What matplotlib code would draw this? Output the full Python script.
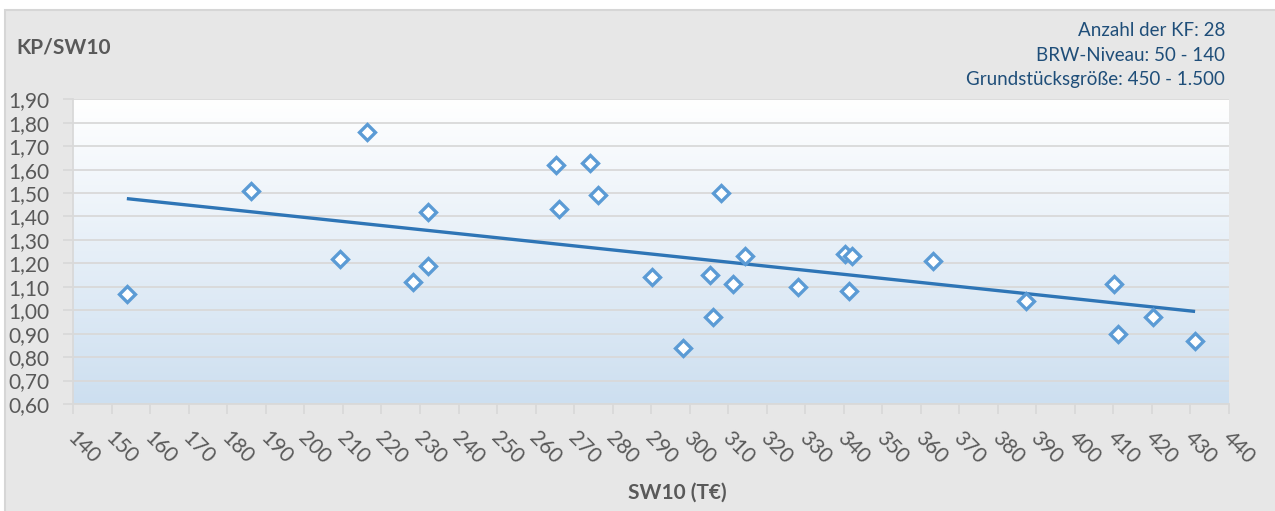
import numpy as np
import matplotlib
matplotlib.use("Agg")
import matplotlib.pyplot as plt
from matplotlib.patches import Rectangle
from matplotlib.colors import LinearSegmentedColormap
from matplotlib.transforms import ScaledTranslation

plt.rcParams['font.family'] = ['Lato', 'DejaVu Sans']

# Data
sw10 = [153.9, 186.1, 209.3, 216.2, 228.2, 232.1, 232.1, 265.3, 266.1, 274.1,
        276.1, 290.2, 298.2, 305.2, 306.0, 308.1, 311.2, 314.3, 328.1, 340.3,
        342.1, 341.4, 363.2, 387.3, 410.2, 411.2, 420.3, 431.2]
kp_sw10 = [1.07, 1.51, 1.22, 1.76, 1.12, 1.19, 1.42, 1.62, 1.43, 1.63,
           1.49, 1.14, 0.84, 1.15, 0.97, 1.50, 1.11, 1.23, 1.10, 1.24,
           1.23, 1.08, 1.21, 1.04, 1.11, 0.90, 0.97, 0.87]
x_ticks = list(range(140, 441, 10))
y_ticks = [0.6, 0.7, 0.8, 0.9, 1.0, 1.1, 1.2, 1.3, 1.4, 1.5, 1.6, 1.7, 1.8, 1.9]
info_lines = ["Anzahl der KF: 28", "BRW-Niveau: 50 - 140", "Grundstücksgröße: 450 - 1.500"]

W, H = 1275, 511
fig = plt.figure(figsize=(W / 100, H / 100), dpi=100, facecolor='white')
bg = Rectangle((5 / W, -0.01), 1, 1.01 - 10 / H, transform=fig.transFigure,
               facecolor='#e7e7e7', edgecolor='#d6d6d6', lw=1.5, zorder=-10)
fig.patches.append(bg)

left, right, top, bottom = 73.3, 1229, 99.3, 404
ax = fig.add_axes([left / W, 1 - bottom / H, (right - left) / W, (bottom - top) / H])
ax.set_zorder(5)
ax.set_facecolor('white')

# gradient fill
cmap = LinearSegmentedColormap.from_list('g', ['#ffffff', '#cddff0'])
grad = np.linspace(0, 1, 256).reshape(-1, 1)
ax.imshow(grad, aspect='auto', cmap=cmap, extent=[0, 1, 0, 1], origin='upper',
          transform=ax.transAxes, zorder=0)

ax.set_xlim(140, 440)
ax.set_ylim(0.6, 1.9)
ax.set_yticks(y_ticks)
ax.set_yticklabels([f"{v:.2f}".replace('.', ',') for v in y_ticks])
ax.set_xticks(x_ticks)
ax.set_xticklabels([str(v) for v in x_ticks])
ax.grid(axis='y', color='#d9d9d9', lw=1.3, zorder=1)
ax.set_axisbelow(True)
for s in ['top', 'right']:
    ax.spines[s].set_visible(False)
ax.spines['left'].set_color('#d9d9d9')
ax.spines['bottom'].set_color('#d9d9d9')
ax.spines['left'].set_linewidth(1.3)
ax.spines['bottom'].set_linewidth(1.3)
ax.tick_params(axis='both', colors='#d9d9d9', length=7, width=1.3, labelcolor='#595959',
               labelsize=15)
ax.tick_params(axis='y', pad=10)
ax.tick_params(axis='x', pad=10)
shift = ScaledTranslation(3 / 72, 0, fig.dpi_scale_trans)
for lbl in ax.get_xticklabels():
    lbl.set_rotation(-45)
    lbl.set_ha('left')
    lbl.set_va('top')
    lbl.set_rotation_mode('anchor')
    lbl.set_transform(lbl.get_transform() + shift)

# trend line
xs = np.array(sw10)
ys = np.array(kp_sw10)
m, b = np.polyfit(xs, ys, 1)
xl = np.array([xs.min(), xs.max()])
ax.plot(xl, m * xl + b, color='#2e75b6', lw=2.4, zorder=3, solid_capstyle='butt')

ax.plot(sw10, kp_sw10, linestyle='none', marker='D', ms=8, mfc='white',
        mec='#5b9bd5', mew=2.4, zorder=4)

fig.text(16 / W, 1 - 47 / H, "KP/SW10", fontsize=15, fontweight='bold', color='#595959',
         ha='left', va='center')
fig.text(677 / W, 1 - 493 / H, "SW10 (T€)", fontsize=15, fontweight='bold', color='#595959',
         ha='center', va='center')
for i, t in enumerate(info_lines):
    fig.text(1225 / W, 1 - (30 + 25 * i) / H, t, fontsize=13.5, color='#1f4e79',
             ha='right', va='center')

fig.savefig('out.png', dpi=100, facecolor=fig.get_facecolor())
